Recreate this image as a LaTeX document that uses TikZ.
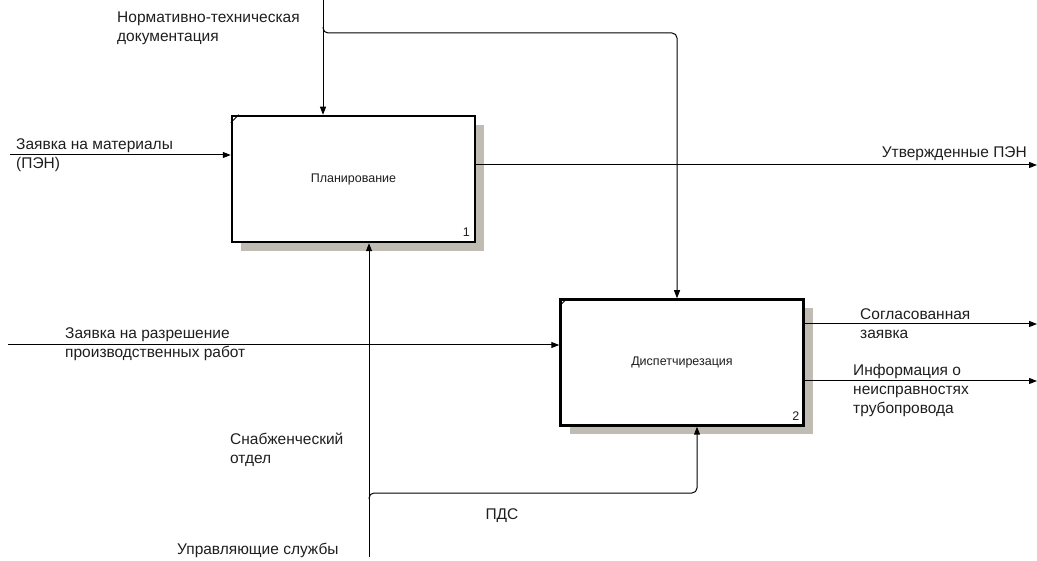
\documentclass[tikz,border=0pt]{standalone}
\usepackage{fontspec}
\setmainfont{Liberation Sans}
\usetikzlibrary{arrows.meta,shadows}
\definecolor{shadowgray}{RGB}{192,188,180}
\definecolor{txt}{RGB}{30,30,30}
\begin{document}
\begin{tikzpicture}[x=1pt,y=-1pt,
  lab/.style={font=\fontsize{15.5}{19}\selectfont, text=txt, align=left, inner sep=0pt, anchor=west},
  box/.style={draw, line width=2.5pt, minimum width=243pt, minimum height=126pt, fill=white, inner sep=0pt,
    font=\fontsize{12.5}{14}\selectfont, text=txt,
    drop shadow={shadow xshift=9pt, shadow yshift=-9pt, fill=shadowgray, opacity=1}},
  num/.style={font=\fontsize{12.5}{14}\selectfont, text=txt, inner sep=0pt},
  arr/.style={line width=1pt, -{Triangle[length=8pt,width=6pt]}},
  rc/.style={rounded corners=5pt}]
\useasboundingbox (0,0) rectangle (1037,561);

% boxes
\node[box] (b1) at (353.5,179) {Планирование};
\node[box] (b2) at (682,362.5) {Диспетчирезация};
\draw[line width=1pt] ([yshift=-8pt]b1.north west) -- ([xshift=8pt]b1.north west);
\draw[line width=1pt] ([yshift=-8pt]b2.north west) -- ([xshift=8pt]b2.north west);
\node[num] (n1) at ([xshift=-10pt,yshift=11pt]b1.south east) {1};
\node[num] (n2) at ([xshift=-9pt,yshift=11pt]b2.south east) {2};

% coordinates
\coordinate (ctop) at (323,0);
\coordinate (cbr1) at (323,27);
\coordinate (cbr2) at (323,33);
\coordinate (cbr3) at (677,33);
\coordinate (mbot) at (369,557);
\coordinate (mbr1) at (369,499);
\coordinate (mbr2) at (369,493);
\coordinate (mbr3) at (697,493);
\coordinate (in1) at (10,155);
\coordinate (in2) at (8,345);
\coordinate (out1) at (1037,165);
\coordinate (out2) at (1037,324);
\coordinate (out3) at (1037,381);

% connectors
\draw[arr] (ctop) -- (ctop |- b1.north);
\draw[arr,rc] (cbr1) -- (cbr2) -- (cbr3) -- (cbr3 |- b2.north);
\draw[arr] (mbot) -- (mbot |- b1.south);
\draw[arr,rc] (mbr1) -- (mbr2) -- (mbr3) -- (mbr3 |- b2.south);
\draw[arr] (in1) -- (in1 -| b1.west);
\draw[arr] (in2) -- (in2 -| b2.west);
\draw[arr] (out1 -| b1.east) -- (out1);
\draw[arr] (out2 -| b2.east) -- (out2);
\draw[arr] (out3 -| b2.east) -- (out3);

% labels
\node[lab] (t1) at (117,28) {Нормативно-техническая\\документация};
\node[lab] (t2) at (16,155) {Заявка на материалы\\(ПЭН)};
\node[lab,anchor=east] (t3) at (1027,154) {Утвержденные ПЭН};
\node[lab] (t4) at (65,344) {Заявка на разрешение\\производственных работ};
\node[lab] (t5) at (860,324) {Согласованная\\заявка};
\node[lab] (t6) at (853,390) {Информация о\\неисправностях\\трубопровода};
\node[lab] (t7) at (230,450) {Снабженческий\\отдел};
\node[lab] (t8) at (502,516) [anchor=center] {ПДС};
\node[lab] (t9) at (177,550) {Управляющие службы};
\end{tikzpicture}
\end{document}
